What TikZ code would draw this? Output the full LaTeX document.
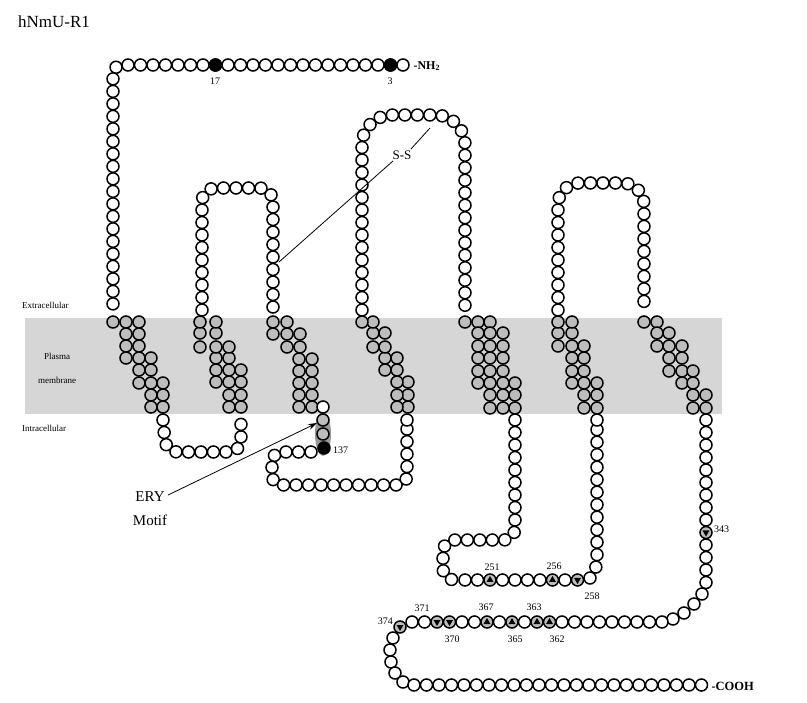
\documentclass[tikz,border=0pt]{standalone}
\usepackage{fontspec}\setmainfont{Liberation Serif}
\usetikzlibrary{decorations.markings,shapes.geometric,arrows.meta}
\begin{document}
\begin{tikzpicture}[x=1pt,y=-1pt,
 bead/.style={circle,draw,line width=1.5pt,minimum size=12pt,inner sep=0pt,fill=white},
 gbead/.style={bead,fill=black!26},
 kbead/.style={bead,fill=black},
 tri/.style={regular polygon,regular polygon sides=3,fill=black,inner sep=0pt,minimum size=8pt},
 beads/.style={decorate,decoration={markings,mark=between positions 0 and 1 step 12.5pt with {\node[bead]{};}}},
 lab/.style={font=\fontsize{10}{10}\selectfont,inner sep=1pt},
 side/.style={font=\fontsize{9}{9}\selectfont,inner sep=0pt}]
\newcommand\triup[1]{\node[gbead] at (#1){}; \node[tri] at (#1){};}
\newcommand\tridn[1]{\node[gbead] at (#1){}; \node[tri,shape border rotate=180] at (#1){};}
\useasboundingbox (0,0) rectangle (807,703);
% membrane
\fill[black!16] (25,318) rectangle (722,414);
\fill[black!40] (323,434) ellipse (8pt and 22pt);
% loops
\path[beads,rounded corners=9pt] (403,65) -- (113,65) -- (113,312);
\node[kbead] at (390.5,65){}; \node[kbead] at (215.5,65){};
\path[beads,rounded corners=12pt] (163,420) -- (166,452) -- (241,452) -- (241,418);
\path[beads,rounded corners=14pt] (202,310) -- (202,188) -- (273,188) -- (273,312);
\path[beads,rounded corners=10pt] (311,452) -- (272,452) -- (272,485) -- (407,485) -- (407,418);
\node[bead] at (407,420){};
\path[beads,rounded corners=30pt] (362,310) -- (362,115) -- (465,115) -- (465,312);
\path[beads,rounded corners=12pt] (515,420) -- (515,540) -- (443,540) -- (443,580) -- (456,580);
\path[beads,rounded corners=10pt] (590,578) -- (597,570) -- (597,418);
\node[bead] at (597,420){};
\path[beads,rounded corners=22pt] (558,310) -- (558,183) -- (644,183) -- (644,312);
% TM helices
\foreach \p in {(113,322),(126,322),(139,322),(126,334),(139,334),(126,346),(139,346),(126,358),(139,358),(151,358),(139,370),(151,370),(139,383),(151,383),(163,383),(151,395),(163,395),(151,407),(163,407),
 (241,407),(229,407),(241,395),(229,395),(241,382),(229,382),(216,382),(241,370),(229,370),(216,370),(229,358),(216,358),(229,347),(216,347),(200,347),(216,333),(200,333),(216,322),(200,322),
 (273,322),(287,322),(273,334),(287,334),(300,334),(287,347),(300,347),(299,359),(312,359),(299,371),(312,371),(299,383),(312,383),(299,395),(312,395),(299,407),(312,407),
 (408,407),(397,407),(408,395),(397,395),(408,382),(397,382),(397,370),(385,370),(397,358),(385,358),(385,347),(373,347),(385,333),(373,333),(373,322),(362,322),
 (465,322),(478,322),(490,322),(478,333),(490,333),(503,333),(478,346),(490,346),(503,346),(478,358),(490,358),(503,358),(478,371),(490,371),(503,371),(478,383),(490,383),(503,383),(515,383),(490,395),(503,395),(515,395),(490,408),(503,408),(515,408),
 (597,408),(584,408),(597,395),(584,395),(597,383),(584,383),(572,383),(584,371),(572,371),(584,358),(572,358),(584,346),(572,346),(558,346),(572,333),(558,333),(572,322),(558,322),
 (644,322),(657,322),(657,333),(669,333),(657,346),(669,346),(682,346),(669,358),(682,358),(669,371),(682,371),(693,371),(682,383),(693,383),(693,395),(706,395),(693,408),(706,408)}
 \node[gbead] at \p {};
\node[bead] at (323,407){};
% ERY
\node[gbead] at (323,420){}; \node[gbead] at (323,434){}; \node[kbead] (r137) at (324,448){};
% ICL3 row
\foreach \k in {0,1,3,4,5,6,8} \node[bead] at (465+12.5*\k,580){};
\triup{490,580} \triup{552.5,580} \tridn{577.5,580}
% C-term
\foreach \k in {0,...,8,10,11,12,13} \node[bead] at (706,420+12.5*\k){};
\tridn{706,532.5}
\foreach \p in {(702,594),(694,604),(684,613),(673,619)} \node[bead] at \p {};
\foreach \k in {0,...,8,11,13,15,16,19,20} \node[bead] at (662-12.5*\k,622){};
\triup{549.5,622} \triup{537,622} \triup{512,622} \triup{487,622}
\tridn{449.5,622} \tridn{437,622} \tridn{400,627}
\foreach \p in {(393,638),(390,650),(391,662),(395,673),(403,682)} \node[bead] at \p {};
\foreach \k in {0,...,23} \node[bead] at (414+12.5*\k,685){};
% labels
\node[lab] (l17) at (215,81) {17};
\node[lab] (l3) at (390,81) {3};
\node[anchor=west,font=\bfseries\fontsize{12}{12}\selectfont] (nh2) at (410,66) {-NH\textsubscript{2}};
\node[lab,anchor=west] (l137) at (332,450) {137};
\node[lab] at (492,567) {251};
\node[lab] at (554,566) {256};
\node[lab] at (592,596) {258};
\node[lab,anchor=west] at (713,529) {343};
\node[lab] at (422,608) {371};
\node[lab] at (452,639) {370};
\node[lab] at (486,607) {367};
\node[lab] at (515,639) {365};
\node[lab] at (534,607) {363};
\node[lab] at (557,639) {362};
\node[lab,anchor=east] at (394,621) {374};
\node[anchor=west,font=\bfseries\fontsize{12.5}{12.5}\selectfont] (cooh) at (708,686) {-COOH};
\node[anchor=west,font=\fontsize{17}{17}\selectfont,inner sep=0pt] (title) at (18,22) {hNmU-R1};
\node[side,anchor=west] (ext) at (22,305) {Extracellular};
\node[side] (pl) at (57,356) {Plasma};
\node[side] (mb) at (57,380) {membrane};
\node[side,anchor=west] (int) at (22,428) {Intracellular};
\node[font=\fontsize{13}{13}\selectfont] (ss) at (402,155) {S-S};
\coordinate (ssa) at (279,262); \coordinate (ssb) at (430,128);
\draw[line width=0.8pt] (ss.south west) ++(4,-2) -- (ssa);
\draw[line width=0.8pt] (ss.north east) ++(-4,2) -- (ssb);
\node[font=\fontsize{15}{15}\selectfont] (ery) at (150,497) {ERY};
\node[font=\fontsize{15}{15}\selectfont] (motif) at (150,520) {Motif};
\coordinate (erytip) at (317,423);
\draw[line width=0.8pt,-{Stealth[length=9pt,width=6pt]}] (ery.east) ++(0,-2) -- (erytip);
\end{tikzpicture}
\end{document}
